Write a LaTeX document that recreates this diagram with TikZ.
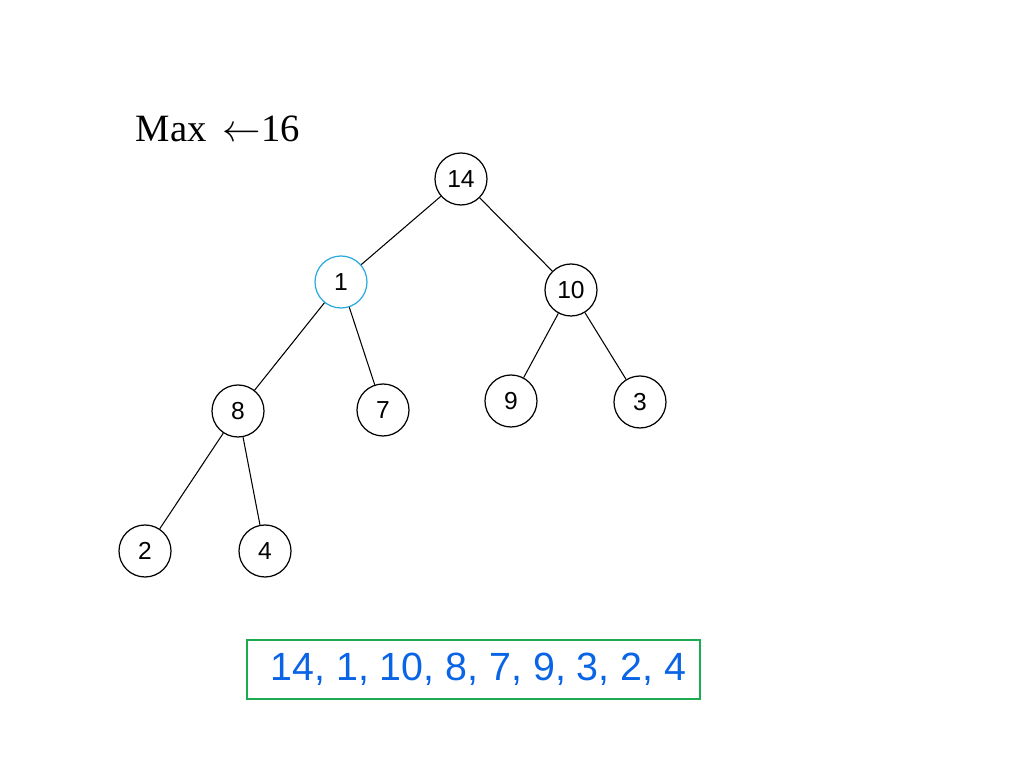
\documentclass[tikz,border=0pt]{standalone}
\usepackage{fontspec}
\setmainfont{Liberation Serif}
\newfontfamily\helv{Liberation Sans}
\usetikzlibrary{positioning}
\definecolor{heapcyan}{RGB}{40,170,220}
\definecolor{heapblue}{RGB}{10,100,230}
\definecolor{heapgreen}{RGB}{30,170,80}
\tikzset{
 key/.style
  = {circle, draw, line width=0.35pt, minimum size=0.52cm, inner sep=0pt,
     font=\helv\fontsize{7}{8}\selectfont},
 hot/.style
  = {key, draw=heapcyan},
 edge/.style
  = {draw, line width=0.3pt},
 arr/.style
  = {draw=heapgreen, line width=0.8pt, minimum width=4.53cm, minimum height=0.59cm,
     inner sep=0pt, text=heapblue, font=\helv\fontsize{11.2}{13}\selectfont},
}
\begin{document}
\begin{tikzpicture}

\useasboundingbox (0,0) rectangle (10.24,7.68);

% Label
\node[anchor=base west, inner sep=0pt, font=\fontsize{11}{13}\selectfont] (max) at (1.35,6.26) {Max \,$\leftarrow$16};

% Tree nodes
\node[key] (n14) at (4.61,5.89) {14};
\node[hot] (n1) at (3.41,4.86) {1};
\node[key] (n10) at (5.71,4.78) {10};
\node[key] (n8) at (2.38,3.57) {8};
\node[key] (n7) at (3.83,3.58) {7};
\node[key] (n9) at (5.11,3.67) {9};
\node[key] (n3) at (6.40,3.66) {3};
\node[key] (n2) at (1.45,2.17) {2};
\node[key] (n4) at (2.65,2.17) {4};

% Edges
\draw[edge] (n14) -- (n1);
\draw[edge] (n14) -- (n10);
\draw[edge] (n1) -- (n8);
\draw[edge] (n1) -- (n7);
\draw[edge] (n10) -- (n9);
\draw[edge] (n10) -- (n3);
\draw[edge] (n8) -- (n2);
\draw[edge] (n8) -- (n4);

% Array
\node[arr] (list) at (4.735,0.985) {\hspace*{0.1cm}14, 1, 10, 8, 7, 9, 3, 2, 4};

\end{tikzpicture}
\end{document}
